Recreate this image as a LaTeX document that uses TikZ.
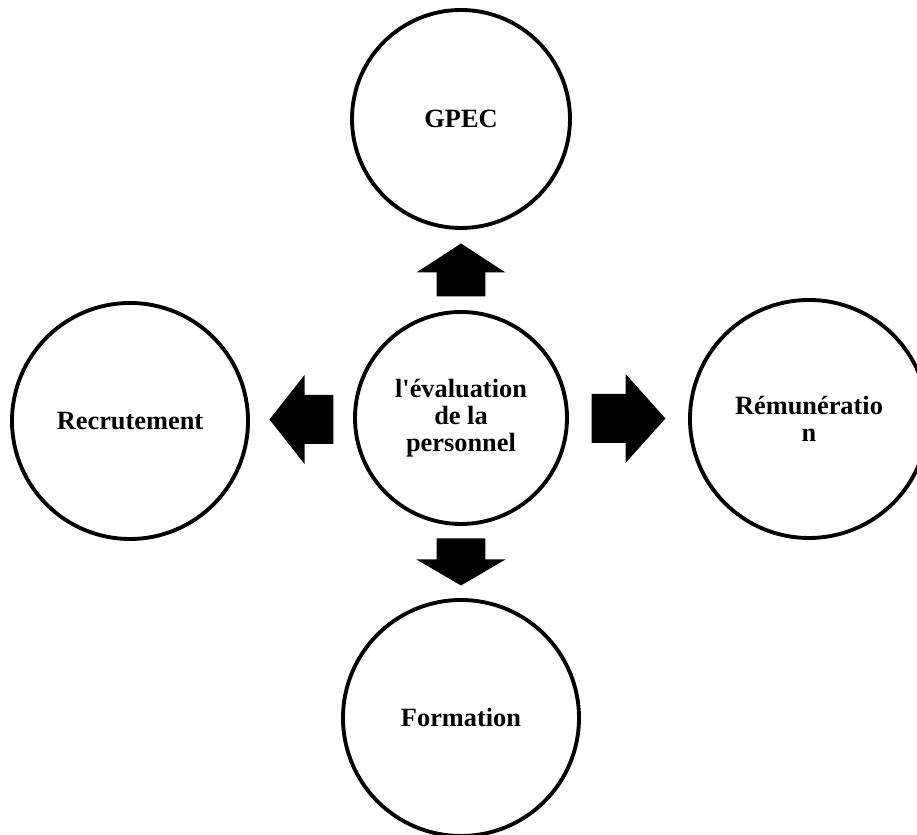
\documentclass[tikz,border=0pt]{standalone}
\usepackage{fontspec}
\setmainfont{Liberation Serif}[Ligatures=TeXOff]
\usetikzlibrary{calc}

\tikzset{
  bubble/.style={draw, circle, line width=1.1pt, inner sep=0pt, align=center,
    font=\bfseries\fontsize{7.5}{7.7}\selectfont},
}
% block arrow pointing right, then shifted and turned: #1 place, #2 angle, #3 length, #4 head length
\newcommand{\blockarrow}[4]{%
  \fill[shift={#1}, rotate=#2] ({-#3/2},-0.245) -- ({#3/2-#4},-0.245) -- ({#3/2-#4},-0.445)
    -- ({#3/2},0) -- ({#3/2-#4},0.445) -- ({#3/2-#4},0.245) -- ({-#3/2},0.245) -- cycle;}

\begin{document}
\begin{tikzpicture}
            \useasboundingbox (0,0) rectangle (9.17,8.35);

            \node[bubble, minimum size=2.18cm] (gpec) at (4.61,7.16) {GPEC};
            \node[bubble, minimum size=2.12cm] (eval) at (4.61,4.17) {l'évaluation\\de la\\personnel};
            \node[bubble, minimum size=2.36cm] (recru) at (1.30,4.14) {Recrutement};
            \node[bubble, minimum size=2.38cm] (remu) at (8.09,4.16) {Rémunératio\\n};
            \node[bubble, minimum size=2.36cm] (forma) at (4.61,1.17) {Formation};

            \blockarrow{($(eval.north)!0.5!(gpec.south)$)}{90}{0.53}{0.29}
            \blockarrow{($(eval.west)!0.5!(recru.east)$)}{180}{0.64}{0.35}
            \blockarrow{($(eval.east)!0.5!(remu.west)$)}{0}{0.74}{0.40}
            \blockarrow{($(eval.south)!0.5!(forma.north)$)}{-90}{0.47}{0.26}
\end{tikzpicture}
\end{document}
